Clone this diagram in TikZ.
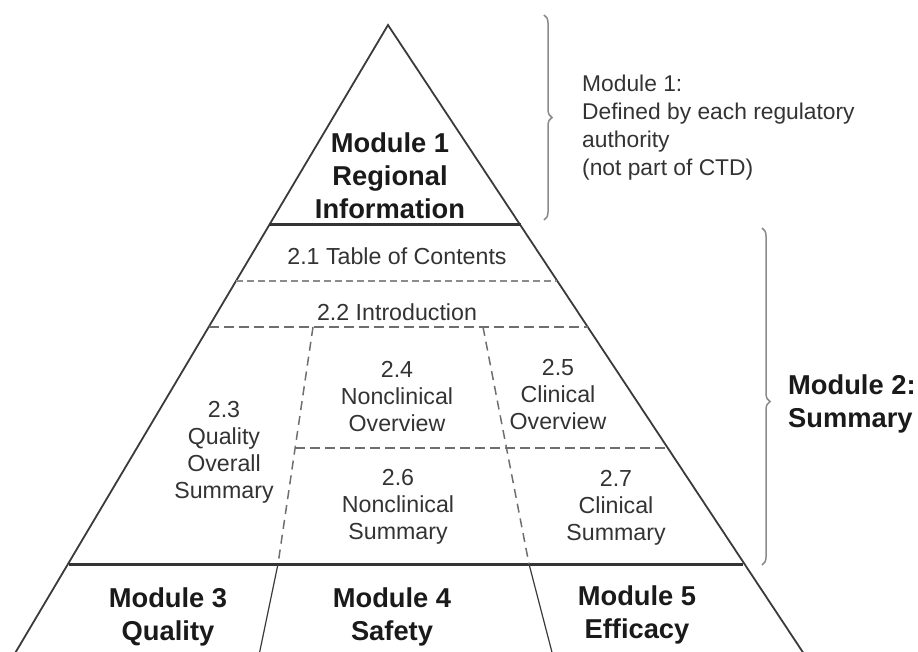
\documentclass[tikz,border=0pt]{standalone}
\usepackage{fontspec}
\setmainfont{Liberation Sans}
\usetikzlibrary{decorations.pathreplacing,calc}
\definecolor{edgecol}{HTML}{3A3A3A}
\definecolor{dashcol}{HTML}{6E6E6E}
\definecolor{bracecol}{HTML}{8A8A8A}
\definecolor{txtcol}{HTML}{333333}
\definecolor{boldcol}{HTML}{1A1A1A}
\begin{document}
\begin{tikzpicture}[x=1pt,y=-1pt,
  edge/.style={draw=edgecol,line width=1.8pt},
  thickline/.style={draw=edgecol!90!black,line width=3pt},
  thinline/.style={draw=edgecol,line width=1.2pt},
  shortdash/.style={draw=dashcol!80,line width=1.5pt,dash pattern=on 7pt off 4pt},
  longdash/.style={draw=dashcol,line width=1.5pt,dash pattern=on 10pt off 5pt},
  vdash/.style={draw=dashcol,line width=1.5pt,dash pattern=on 9pt off 6pt},
  bracestyle/.style={draw=bracecol,line width=1.5pt,decorate,decoration={brace,amplitude=8pt}},
  modtext/.style={text=boldcol,font=\fontsize{27.3}{33}\selectfont\bfseries,align=center,inner sep=0pt},
  sectext/.style={text=txtcol,font=\fontsize{23.2}{27}\selectfont,align=center,inner sep=0pt},
  notetext/.style={text=txtcol,font=\fontsize{22.8}{28}\selectfont,align=left,inner sep=0pt}
]
\useasboundingbox (0,0) rectangle (918,652);
\clip (0,0) rectangle (918,652);
% vertices
\coordinate (apex) at (388,25);
\coordinate (L1) at (269,225);
\coordinate (R1) at (521,225);
\coordinate (L2) at (236,281);
\coordinate (R2) at (557,281);
\coordinate (L3) at (209,327);
\coordinate (R3) at (588,327);
\coordinate (Lb) at (69,564);
\coordinate (Rb) at (743,564);
\coordinate (Lend) at (11,660);
\coordinate (Rend) at (808,660);
\coordinate (V1t) at (313,327);
\coordinate (V1m) at (295,448);
\coordinate (V1b) at (278,564);
\coordinate (V1e) at (258,660);
\coordinate (V2t) at (483,327);
\coordinate (V2b) at (529,564);
\coordinate (V2e) at (554,660);
\coordinate (H4r) at (668,448);
% outline
\draw[edge] (Lend) -- (apex) -- (Rend);
\draw[thickline] (L1) -- (R1);
\draw[thickline] (Lb) -- (Rb);
% dashed divisions
\draw[shortdash] (L2) -- (R2);
\draw[longdash] (L3) -- (R3);
\draw[vdash] (V1t) -- (V1b);
\draw[vdash] (V2t) -- (V2b);
\draw[longdash] (V1m) -- (H4r);
\draw[thinline] (V1b) -- (V1e);
\draw[thinline] (V2b) -- (V2e);
% braces
\coordinate (b1t) at (544,15);
\coordinate (b1b) at (544,220);
\coordinate (b2t) at (762,228);
\coordinate (b2b) at (762,565);
\draw[bracestyle] (b1t) -- (b1b);
\draw[bracestyle,decoration={brace,amplitude=8pt,aspect=0.515}] (b2t) -- (b2b);
% texts
\node[modtext] (m1) at (390,176) {Module 1\\Regional\\Information};
\node[sectext] (s21) at (397,256) {2.1 Table of Contents};
\node[sectext] (s22) at (397,312) {2.2 Introduction};
\node[sectext] (s23) at (224,452) {2.3\\Quality\\Overall\\Summary};
\node[sectext] (s24) at (397,397) {2.4\\Nonclinical\\Overview};
\node[sectext] (s25) at (558,395) {2.5\\Clinical\\Overview};
\node[sectext] (s26) at (398,507) {2.6\\Nonclinical\\Summary};
\node[sectext] (s27) at (616,508) {2.7\\Clinical\\Summary};
\node[modtext] (m3) at (168,617) {Module 3\\Quality};
\node[modtext] (m4) at (392,617) {Module 4\\Safety};
\node[modtext] (m5) at (637,615) {Module 5\\Efficacy};
\node[modtext,align=left,anchor=west] (m2) at (788,404) {Module 2:\\Summary};
\node[notetext,anchor=west] (note) at (582,128) {Module 1:\\Defined by each regulatory\\authority\\(not part of CTD)};
\end{tikzpicture}
\end{document}
